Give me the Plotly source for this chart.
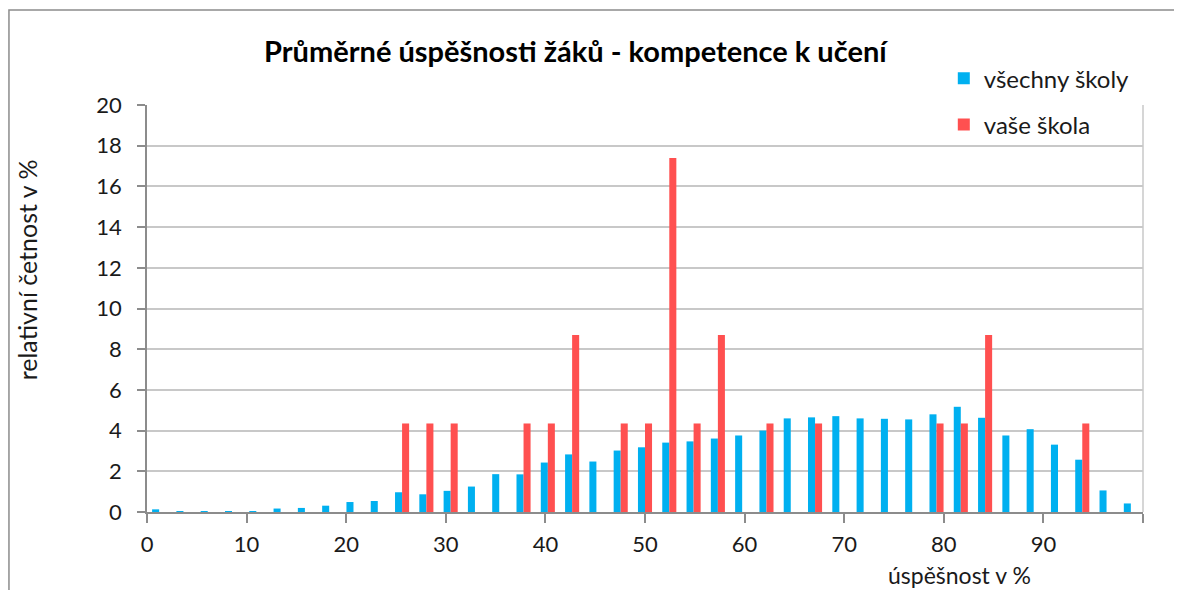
import plotly.graph_objects as go

n_bins = 41
bin_centers = [(i + 0.5) * 100 / n_bins for i in range(n_bins)]

vsechny_skoly = [0.13, 0.01, 0.01, 0.02, 0.02, 0.17, 0.20, 0.31, 0.49, 0.54,
                 0.97, 0.87, 1.04, 1.25, 1.86, 1.85, 2.43, 2.83, 2.48, 3.02,
                 3.18, 3.41, 3.47, 3.61, 3.76, 4.00, 4.60, 4.65, 4.71, 4.60,
                 4.58, 4.55, 4.80, 5.17, 4.63, 3.76, 4.07, 3.31, 2.57, 1.06,
                 0.42]
vase_skola = [0, 0, 0, 0, 0, 0, 0, 0, 0, 0,
              4.35, 4.35, 4.35, 0, 0, 4.35, 4.35, 8.70, 0, 4.35,
              4.35, 17.39, 4.35, 8.70, 0, 4.35, 0, 4.35, 0, 0,
              0, 0, 4.35, 4.35, 8.70, 0, 0, 0, 4.35, 0,
              0]

x_tickvals = [0, 10, 20, 30, 40, 50, 60, 70, 80, 90, 100]
x_ticktext = ["0", "10", "20", "30", "40", "50", "60", "70", "80", "90", ""]
y_tickvals = list(range(0, 21, 2))

FONT = "Lato"
TXT = "#1a1a1a"
BLUE = "#00B0F0"
RED = "#FF5050"
GRID = "#C8C8C8"
AXIS = "#8C8C8C"

fig = go.Figure()
fig.add_trace(go.Bar(x=bin_centers, y=vsechny_skoly, name="všechny školy",
                     legendgroup="a",
                     marker=dict(color=BLUE, line=dict(width=0))))
fig.add_trace(go.Bar(x=bin_centers, y=vase_skola, name="vaše škola",
                     legendgroup="b",
                     marker=dict(color=RED, line=dict(width=0))))

fig.update_layout(
    width=1182, height=590,
    margin=dict(l=139, r=47, t=97, b=86),
    paper_bgcolor="white", plot_bgcolor="white",
    barmode="group", bargap=0.42, bargroupgap=0,
    font=dict(family=FONT, color=TXT),
    title=dict(text="<b>Průměrné úspěšnosti žáků - kompetence k učení</b>",
               x=0.48, xanchor="center", y=0.925, yanchor="middle",
               font=dict(size=29, family=FONT, color="#000")),
    legend=dict(x=0.80, xanchor="left", y=1.12, yanchor="top",
                bgcolor="rgba(0,0,0,0)", font=dict(size=24, family=FONT, color=TXT),
                tracegroupgap=12, traceorder="grouped", itemwidth=30),
    showlegend=True,
)
fig.update_xaxes(range=[0, 100], tickvals=x_tickvals, ticktext=x_ticktext,
                 ticks="outside", ticklen=9, tickcolor=AXIS, tickwidth=1.5,
                 showline=True, linecolor=AXIS, linewidth=1.5,
                 showgrid=False, zeroline=False,
                 tickfont=dict(size=22, family=FONT, color=TXT),
                 ticklabelstandoff=3)
fig.update_yaxes(range=[0, 20], tickvals=y_tickvals,
                 ticks="outside", ticklen=8, tickcolor=AXIS, tickwidth=1.5,
                 showline=True, linecolor=AXIS, linewidth=1.5,
                 showgrid=True, gridcolor=GRID, gridwidth=1.5, zeroline=False,
                 tickfont=dict(size=22, family=FONT, color=TXT),
                 ticklabelstandoff=11)

# right border line of plot area
fig.add_shape(type="line", xref="paper", yref="paper", x0=1, x1=1, y0=0, y1=1,
              line=dict(color=GRID, width=1.5))
# outer chart frame
fig.add_shape(type="rect", xref="paper", yref="paper",
              x0=-0.1386, x1=1.2, y0=-0.4, y1=1.2334,
              line=dict(color=AXIS, width=1.5), layer="below")

fig.add_annotation(text="relativní četnost v %", xref="paper", yref="paper",
                   x=-0.121, y=0.595, xanchor="center", yanchor="middle",
                   textangle=-90, showarrow=False,
                   font=dict(size=25, family=FONT, color=TXT))
fig.add_annotation(text="úspěšnost v %", xref="paper", yref="paper",
                   x=0.742, y=-0.155, xanchor="left", yanchor="middle",
                   showarrow=False, font=dict(size=23, family=FONT, color=TXT))

fig.write_html("out.html")
